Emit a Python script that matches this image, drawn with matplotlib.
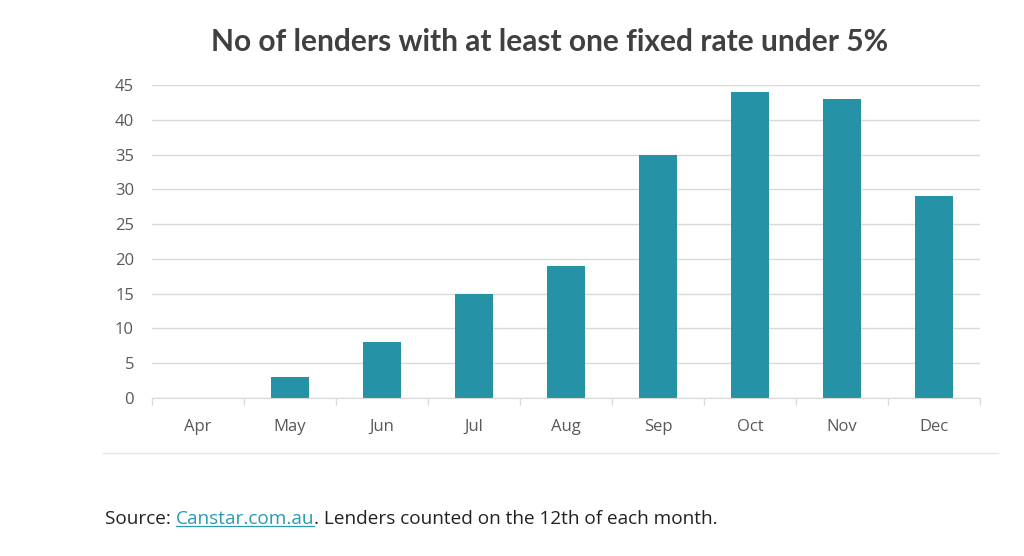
import matplotlib
matplotlib.use("Agg")
import matplotlib.pyplot as plt
from matplotlib.lines import Line2D

months = ["Apr", "May", "Jun", "Jul", "Aug", "Sep", "Oct", "Nov", "Dec"]
lenders = [0, 3, 8, 15, 19, 35, 44, 43, 29]
yticks = [0, 5, 10, 15, 20, 25, 30, 35, 40, 45]

title = "No of lenders with at least one fixed rate under 5%"
bar_color = "#2592A5"
text_gray = "#595959"
grid_gray = "#d9d9d9"

fig = plt.figure(figsize=(10.24, 5.56), dpi=100)
ax = fig.add_axes([152/1024, (556-398)/556, (980-152)/1024, (398-85)/556])

x = list(range(len(months)))
ax.bar(x, lenders, width=0.41, color=bar_color, zorder=3)
ax.set_xlim(-0.5, len(months) - 0.5)
ax.set_ylim(0, 45)
ax.set_yticks(yticks)
ax.set_yticklabels([str(v) for v in yticks], color=text_gray, fontsize=12, family="Open Sans")
ax.set_xticks(x)
ax.set_xticklabels(months, color=text_gray, fontsize=12, family="Open Sans")
ax.tick_params(axis="y", length=0, pad=13)
ax.tick_params(axis="x", length=0, pad=15)
# minor ticks at category boundaries
ax.set_xticks([i - 0.5 for i in range(len(months) + 1)], minor=True)
ax.tick_params(axis="x", which="minor", length=5, color=grid_gray, width=1)
ax.grid(axis="y", color=grid_gray, linewidth=1, zorder=0)
for s in ["top", "right", "left"]:
    ax.spines[s].set_visible(False)
ax.spines["bottom"].set_color(grid_gray)
ax.spines["bottom"].set_zorder(4)

fig.text(550/1024, 1 - 42/556, title, ha="center", va="center",
         fontsize=21.5, fontweight="bold", color="#404040", family="Lato")

# bottom border line of chart
fig.add_artist(Line2D([103/1024, 998/1024], [1 - 453/556, 1 - 453/556],
                      color="#e6e6e6", linewidth=1))

# source line with underlined link
fig.canvas.draw()
renderer = fig.canvas.get_renderer()
y_src = 1 - 519/556
src_font = dict(fontsize=13.7, family="Open Sans")
t1 = fig.text(105/1024, y_src, "Source: ", ha="left", va="center",
              color="#222222", **src_font)
bb1 = t1.get_window_extent(renderer)
x2 = bb1.x1 / fig.bbox.width
t2 = fig.text(x2, y_src, "Canstar.com.au", ha="left", va="center",
              color="#2a9bb0", **src_font)
bb2 = t2.get_window_extent(renderer)
x3 = bb2.x1 / fig.bbox.width
fig.add_artist(Line2D([x2, x3], [bb2.y0 / fig.bbox.height + 0.004] * 2,
                      color="#2a9bb0", linewidth=0.9))
fig.text(x3, y_src, ". Lenders counted on the 12th of each month.", ha="left",
         va="center", color="#222222", **src_font)

fig.savefig("out.png", dpi=100)
